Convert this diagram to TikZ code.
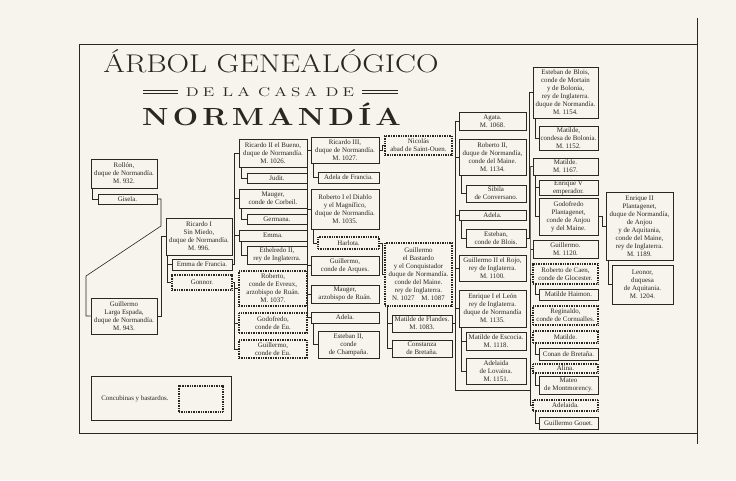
\documentclass[tikz,border=0pt]{standalone}
\usepackage{fontspec}
\usepackage{graphicx}
\newfontfamily\boxfam{Liberation Serif}
\definecolor{paper}{RGB}{246,244,237}
\definecolor{ink}{RGB}{42,38,34}
\newcommand\boxfont{\boxfam\fontsize{6.9}{8}\selectfont}
\tikzset{
 box/.style={draw=ink, line width=0.75pt, inner sep=0pt, align=center, font=\boxfont, text=ink},
 dbox/.style={box, dash pattern=on 0.9pt off 0.8pt, line width=1.1pt},
 link/.style={draw=ink, line width=0.6pt},
}
\newcommand\mkbox[7]{%
 \node[#2, minimum width={#5-#3}, minimum height={#6-#4}] (#1) at ({(#3+#5)/2},{(#4+#6)/2}) {#7};}
\begin{document}
\begin{tikzpicture}[x=1pt,y=-1pt]
\fill[paper] (0,0) rectangle (736,480);
\draw[ink, line width=0.8pt] (79,44) rectangle (697,433);
\draw[ink, line width=0.8pt] (697,18) -- (697,444);
% titles
\node[anchor=base, text=ink, inner sep=0pt] (title) at (271,72.5)
 {\fontsize{25.6}{30}\selectfont\scalebox{1.22}[1]{ÁRBOL GENEALÓGICO}};
\node[anchor=base, text=ink, inner sep=0pt] (subtitle) at (270,96)
 {\resizebox{168pt}{9pt}{\fontsize{12.5}{14}\selectfont D\kern3pt E\kern6pt L\kern3pt A\kern6pt C\kern3pt A\kern3pt S\kern3pt A\kern6pt D\kern3pt E}};
\node[anchor=base, text=ink, inner sep=0pt] (normandia) at (271.5,125)
 {\fontsize{24.8}{28}\selectfont\bfseries\scalebox{1.21}[1]{N\kern3.5pt O\kern3.5pt R\kern3.5pt M\kern3.5pt A\kern3.5pt N\kern3.5pt D\kern3.5pt Í\kern3.5pt A}};
\draw[ink, line width=0.6pt] (143,90.5) -- (178,90.5) (143,93.5) -- (178,93.5)
 (362,90.5) -- (398,90.5) (362,93.5) -- (398,93.5);
% column 1
\mkbox{rollon}{box}{91}{159}{157}{188}{Rollón, \\ duque de Normandía. \\ M. 932.}
\mkbox{gisela}{box}{98}{194}{157}{204}{Gisela.}
\mkbox{guille1}{box}{91}{298}{157}{334}{Guillermo \\ Larga Espada, \\ duque de Normandía. \\ M. 943.}
% column 2
\mkbox{ric1}{box}{166}{218}{232}{255}{Ricardo I \\ Sin Miedo, \\ duque de Normandía. \\ M. 996.}
\mkbox{emmaf}{box}{172}{259}{232}{270}{Emma de Francia.}
\mkbox{gonnor}{dbox}{172}{275}{232}{290}{Gonnor.}
% column 3
\mkbox{ric2}{box}{239}{139}{307}{167}{Ricardo II el Bueno, \\ duque de Normandía. \\ M. 1026.}
\mkbox{judit}{box}{247}{173}{307}{183}{Judit.}
\mkbox{mauger1}{box}{239}{189}{307}{208}{Mauger, \\ conde de Corbeil.}
\mkbox{germana}{box}{247}{214}{307}{224}{Germana.}
\mkbox{emma}{box}{239}{230}{307}{241}{Emma.}
\mkbox{ethel}{box}{247}{246}{307}{264}{Ethelredo II, \\ rey de Inglaterra.}
\mkbox{robev}{dbox}{239}{271}{307}{306}{Roberto, \\ conde de Evreux, \\ arzobispo de Ruán. \\ M. 1037.}
\mkbox{godoeu}{dbox}{239}{313}{307}{333}{Godofredo, \\ conde de Eu.}
\mkbox{guieu}{dbox}{239}{340}{307}{358}{Guillermo, \\ conde de Eu.}
% column 4
\mkbox{ric3}{box}{311}{137}{379}{163}{Ricardo III, \\ duque de Normandía. \\ M. 1027.}
\mkbox{adelaf}{box}{318}{172}{379}{183}{Adela de Francia.}
\mkbox{rob1}{box}{311}{189}{379}{229}{Roberto I el Diablo \\ y el Magnífico, \\ duque de Normandía. \\ M. 1035.}
\mkbox{harlota}{dbox}{318}{237}{379}{249}{Harlota.}
\mkbox{guiarq}{box}{311}{256}{379}{275}{Guillermo, \\ conde de Arques.}
\mkbox{mauger2}{box}{311}{285}{379}{303}{Mauger, \\ arzobispo de Ruán.}
\mkbox{adela4}{box}{311}{312}{379}{323}{Adela.}
\mkbox{esteban2}{box}{318}{331}{379}{358}{Esteban II, \\ conde \\ de Champaña.}
% column 5
\mkbox{nicolas}{dbox}{385}{136}{452}{155}{Nicolás \\ abad de Saint-Ouen.}
\mkbox{guiconq}{dbox}{385}{243}{452}{306}{Guillermo \\ el Bastardo \\ y el Conquistador \\ duque de Normandía. \\ conde del Maine. \\ rey de Inglaterra. \\ N. 1027\quad M. 1087}
\mkbox{matfl}{box}{392}{315}{452}{332}{Matilde de Flandes. \\ M. 1083.}
\mkbox{constanza}{box}{392}{340}{452}{357}{Constanza \\ de Bretaña.}
% column 6
\mkbox{agata}{box}{459}{112}{526}{130}{Agata. \\ M. 1068.}
\mkbox{rob2}{box}{459}{139}{526}{175}{Roberto II, \\ duque de Normandía, \\ conde del Maine. \\ M. 1134.}
\mkbox{sibila}{box}{466}{185}{526}{202}{Sibila \\ de Conversano.}
\mkbox{adela6}{box}{459}{210}{526}{220}{Adela.}
\mkbox{estblois}{box}{466}{229}{526}{247}{Esteban, \\ conde de Blois.}
\mkbox{gui2}{box}{459}{255}{526}{281}{Guillermo II el Rojo, \\ rey de Inglaterra. \\ M. 1100.}
\mkbox{enr1}{box}{459}{290}{526}{327}{Enrique I el León \\ rey de Inglaterra. \\ duque de Normandía \\ M. 1135.}
\mkbox{matesc}{box}{466}{332}{526}{350}{Matilde de Escocia. \\ M. 1118.}
\mkbox{adelov}{box}{466}{358}{526}{384}{Adelaida \\ de Lovaina. \\ M. 1151.}
% column 7
\mkbox{estb}{box}{533}{67}{598}{118}{Esteban de Blois, \\ conde de Mortain \\ y de Bolonia, \\ rey de Inglaterra. \\ duque de Normandía. \\ M. 1154.}
\mkbox{matbol}{box}{539}{126}{598}{150}{Matilde, \\ condesa de Bolonia. \\ M. 1152.}
\mkbox{matemp}{box}{533}{158}{598}{175}{Matilde. \\ M. 1167.}
\mkbox{enr5}{box}{539}{180}{598}{195}{Enrique V \\ emperador.}
\mkbox{godopl}{box}{539}{198}{598}{235}{Godofredo \\ Plantagenet, \\ conde de Anjou \\ y del Maine.}
\mkbox{guiad}{box}{533}{240}{598}{258}{Guillermo. \\ M. 1120.}
\mkbox{robcaen}{dbox}{533}{264}{598}{284}{Roberto de Caen, \\ conde de Glocester.}
\mkbox{mathai}{box}{539}{289}{598}{300}{Matilde Haimon.}
\mkbox{regin}{dbox}{533}{306}{598}{325}{Reginaldo, \\ conde de Cornualles.}
\mkbox{matil}{dbox}{533}{331}{598}{343}{Matilde.}
\mkbox{conan}{box}{539}{348}{598}{360}{Conan de Bretaña.}
\mkbox{alina}{dbox}{533}{364}{598}{373}{Alina.}
\mkbox{mateo}{box}{539}{376}{598}{394}{Mateo \\ de Montmorency.}
\mkbox{adeliza}{dbox}{533}{400}{598}{411}{Adelaida.}
\mkbox{gouet}{box}{539}{417}{598}{429}{Guillermo Gouet.}
% column 8
\mkbox{enr2}{box}{606}{192}{673}{260}{Enrique II \\ Plantagenet, \\ duque de Normandía, \\ de Anjou \\ y de Aquitania, \\ conde del Maine, \\ rey de Inglaterra. \\ M. 1189.}
\mkbox{leonor}{box}{612}{265}{673}{304}{Leonor, \\ duquesa \\ de Aquitania. \\ M. 1204.}
% legend
\mkbox{legend}{box}{91}{376}{231}{420}{}
\mkbox{legdot}{dbox}{179}{386}{223}{412}{}
\node[font=\boxfont, text=ink, inner sep=0pt] (legtext) at (135,399) {Concubinas y bastardos.};
% connectors: columns 1-2
\draw[link] ([xshift=1.5pt]rollon.south west) |- (gisela.west);
\coordinate (d1) at (161,226);
\coordinate (d2) at (86,276);
\draw[link] (gisela.east) -| (d1) -- (d2) |- (guille1.west);
\draw[link] (guille1.east) -- ++(4,0) |- (ric1.west);
\draw[link] ([xshift=1.5pt]ric1.south west) |- (emmaf.west);
\draw[link] ([xshift=1.5pt]ric1.south west) |- (gonnor.west);
% column 3
\draw[link] (emmaf.east) -| ([xshift=-4pt]ric2.west) -- (ric2.west);
\foreach \n in {mauger1,emma} \draw[link] ([xshift=-4pt]\n.west) -- (\n.west);
\draw[link] (gonnor.east) -| ([xshift=-4pt]guieu.west) -- (guieu.west);
\foreach \n in {robev,godoeu} \draw[link] ([xshift=-4pt]\n.west) -- (\n.west);
\draw[link] ([xshift=3pt]ric2.south west) |- (judit.west);
\draw[link] ([xshift=3pt]mauger1.south west) |- (germana.west);
\draw[link] ([xshift=3pt]emma.south west) |- (ethel.west);
% column 4
\draw[link] (judit.east) -| ([xshift=-3pt]ric3.west) -- (ric3.west);
\draw[link] (judit.east) -| ([xshift=-3pt]adela4.west) -- (adela4.west);
\foreach \n in {rob1,guiarq,mauger2} \draw[link] ([xshift=-3pt]\n.west) -- (\n.west);
\draw[link] ([xshift=3pt]ric3.south west) |- (adelaf.west);
\draw[link] ([xshift=3pt]rob1.south west) |- (harlota.west);
\draw[link] ([xshift=3pt]adela4.south west) |- (esteban2.west);
% column 5
\draw[link] (ric3.east) -- ++(3,0) |- (nicolas.west);
\draw[link] (harlota.east) -- ++(3,0) |- (guiconq.west);
\draw[link] ([xshift=2.5pt]guiconq.south west) |- (matfl.west);
\draw[link] ([xshift=2.5pt]guiconq.south west) |- (constanza.west);
% column 6
\draw[link] (matfl.east) -| ([xshift=-3pt]agata.west) -- (agata.west);
\foreach \n in {rob2,adela6,gui2,enr1} \draw[link] ([xshift=-3pt]\n.west) -- (\n.west);
\draw[link] ([xshift=3pt]rob2.south west) |- (sibila.west);
\draw[link] ([xshift=3pt]adela6.south west) |- (estblois.west);
\draw[link] ([xshift=3pt]enr1.south west) |- (matesc.west);
\draw[link] ([xshift=3pt]enr1.south west) |- (adelov.west);
% column 7
\coordinate (busb) at (531,390);
\draw[link] ([xshift=-3pt]enr1.west) |- (busb);
\draw[link] (matemp.west) -- ([xshift=-2pt]matemp.west) -- ([xshift=-2pt]adeliza.west) -- (adeliza.west);
\foreach \n in {guiad,robcaen,regin,matil,alina} \draw[link] ([xshift=-2pt]\n.west) -- (\n.west);
\draw[link] (estblois.east) -- ++(3,0) |- (estb.west);
\draw[link] ([xshift=3pt]estb.south west) |- (matbol.west);
\draw[link] ([xshift=3pt]matemp.south west) |- (enr5.west);
\draw[link] ([xshift=3pt]matemp.south west) |- (godopl.west);
\draw[link] ([xshift=3pt]robcaen.south west) |- (mathai.west);
\draw[link] ([xshift=3pt]matil.south west) |- (conan.west);
\draw[link] ([xshift=3pt]alina.south west) |- (mateo.west);
\draw[link] ([xshift=3pt]adeliza.south west) |- (gouet.west);
% column 8
\draw[link] (godopl.east) -- ++(4,0) |- (enr2.west);
\draw[link] ([xshift=2.5pt]enr2.south west) |- (leonor.west);
\end{tikzpicture}
\end{document}
